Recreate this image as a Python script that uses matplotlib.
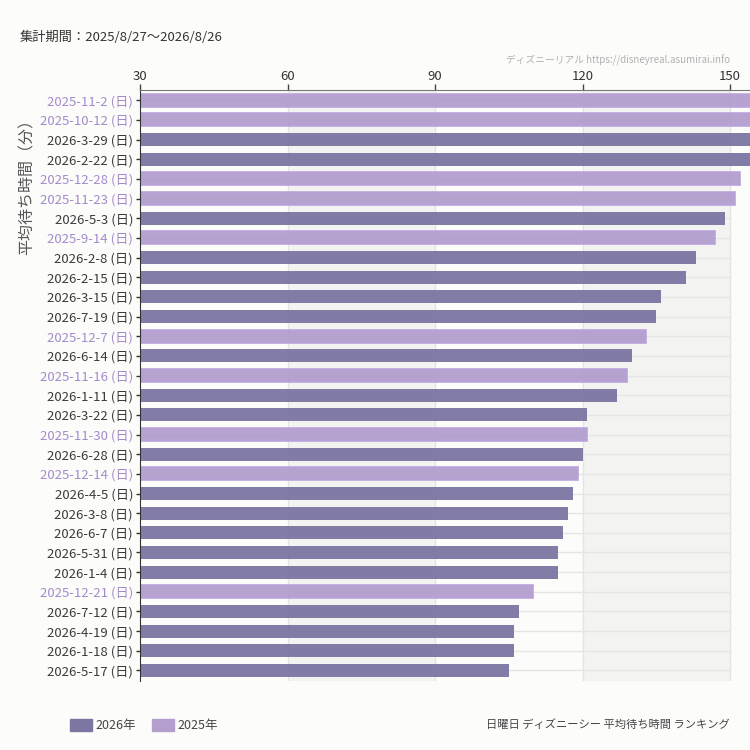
import matplotlib
matplotlib.use("Agg")
import matplotlib.pyplot as plt
from matplotlib.patches import Rectangle

plt.rcParams['font.family'] = ['Noto Sans CJK JP', 'DejaVu Sans']

dates = ["2025-11-2", "2025-10-12", "2026-3-29", "2026-2-22", "2025-12-28",
         "2025-11-23", "2026-5-3", "2025-9-14", "2026-2-8", "2026-2-15",
         "2026-3-15", "2026-7-19", "2025-12-7", "2026-6-14", "2025-11-16",
         "2026-1-11", "2026-3-22", "2025-11-30", "2026-6-28", "2025-12-14",
         "2026-4-5", "2026-3-8", "2026-6-7", "2026-5-31", "2026-1-4",
         "2025-12-21", "2026-7-12", "2026-4-19", "2026-1-18", "2026-5-17"]
wait_minutes = [165, 160, 158, 155, 152,
                151, 149, 147, 143, 141,
                136, 135, 133, 130, 129,
                127, 121, 121, 120, 119,
                118, 117, 116, 115, 115,
                110, 107, 106, 106, 105]
weekday = "日"
x_ticks = [30, 60, 90, 120, 150]

col26 = '#7b76a2'
col25 = '#b39ecd'
edge25 = '#b9a0dc'
lab26 = '#3a3a3a'
lab25 = '#a58acb'
bg = '#fcfdfb'
band = '#f3f4f1'

fig = plt.figure(figsize=(7.5, 7.5), dpi=100, facecolor=bg)
ax = fig.add_axes([140/750, 1-680.7/750, 610/750, 590.7/750])
ax.set_facecolor(bg)

ax.set_xlim(30, 30 + 610/4.917)
ax.set_ylim(len(dates) - 0.48, -0.52)

for a, b in [(60, 90), (120, 150)]:
    ax.axvspan(a, b, color=band, zorder=0, lw=0)
for t in x_ticks[1:]:
    ax.axvline(t, color='#e4e4e4', lw=1, zorder=1)
ys = list(range(len(dates)))
ax.hlines(ys, 30, 150, color='#e6e6e6', lw=1, zorder=1)

for i, (d, v) in enumerate(zip(dates, wait_minutes)):
    if d.startswith("2025"):
        ax.barh(i, v - 30, left=30, height=0.66, color=col25, alpha=0.95,
                edgecolor=edge25, linewidth=1.2, zorder=2)
    else:
        ax.barh(i, v - 30, left=30, height=0.65, color=col26, alpha=0.95,
                linewidth=0, zorder=2)

ax.xaxis.tick_top()
ax.set_xticks(x_ticks)
ax.set_xticklabels([str(t) for t in x_ticks], fontsize=9.5, color='#333333')
ax.tick_params(axis='x', length=4, width=1, color='#444444', pad=1)

ax.set_yticks(ys)
ax.set_yticklabels([f"{d} ({weekday})" for d in dates], fontsize=9.5)
for lbl, d in zip(ax.get_yticklabels(), dates):
    lbl.set_color(lab25 if d.startswith("2025") else lab26)
ax.tick_params(axis='y', length=3, width=1, color='#333333', pad=2)

for s in ['right', 'bottom']:
    ax.spines[s].set_visible(False)
ax.spines['left'].set_color('#333333')
ax.spines['top'].set_color('#777777')
ax.spines['top'].set_bounds(30, 160)

fig.text(27/750, 1-183/750, "平均待ち時間（分）", rotation=90, fontsize=11.5,
         color='#555555', ha='center', va='center')
fig.text(20/750, 1-37/750, "集計期間：2025/8/27〜2026/8/26", fontsize=9.5,
         color='#333333', ha='left', va='center')
fig.text(730/750, 1-60/750, "ディズニーリアル https://disneyreal.asumirai.info",
         fontsize=7, color='#b0b0b0', ha='right', va='center')

# legend
fig.patches.append(Rectangle((70/750, 1-731/750), 22/750, 12/750,
                             transform=fig.transFigure, color=col26))
fig.text(95/750, 1-725/750, "2026年", fontsize=9, color='#444444',
         ha='left', va='center')
fig.patches.append(Rectangle((152/750, 1-731/750), 22/750, 12/750,
                             transform=fig.transFigure, color=col25))
fig.text(177/750, 1-725/750, "2025年", fontsize=9, color='#444444',
         ha='left', va='center')
fig.text(730/750, 1-725/750, "日曜日 ディズニーシー 平均待ち時間 ランキング",
         fontsize=8.1, color='#444444', ha='right', va='center')

fig.savefig("out.png", dpi=100, facecolor=bg)
